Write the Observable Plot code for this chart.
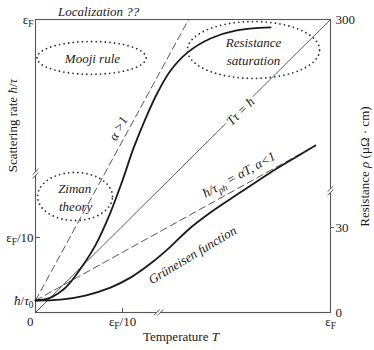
<!DOCTYPE html>
<html><head><meta charset="utf-8">
<script src="https://cdn.jsdelivr.net/npm/d3@7"></script>
<script src="https://cdn.jsdelivr.net/npm/@observablehq/plot@0.6"></script>
<style>
body{margin:0;background:#fff}
svg, svg text, svg tspan {font-family: "Liberation Serif", "DejaVu Serif", serif !important;}
</style>
</head><body><div id="chart"></div>
<script>
// Plot units: temperature T and scattering rate both on 0..100 (0 → εF, broken axes)
const upperT    = [0, 5.1, 10.2, 15.3, 20.3, 25.4, 29.5, 33.2, 37.3, 41.4, 45.8, 51.5, 59.3, 67.8, 79.7];
const upperRate = [4.1, 5.1, 8.5, 15.0, 22.9, 34.1, 45.1, 56.0, 66.2, 75.1, 82.6, 88.7, 93.5, 96.2, 97.3];
const grunT     = [0, 8.5, 16.9, 25.4, 32.2, 39.0, 45.8, 51.5, 59.3, 69.5, 79.7, 88.1, 94.9];
const grunRate  = [4.1, 4.4, 5.8, 8.5, 11.9, 16.7, 22.5, 28.0, 34.1, 41.0, 47.8, 52.9, 57.0];
const steepT = [0, 51.9],  steepRate = [4.1, 100];     // α > 1
const linT   = [0, 94.9],  linRate   = [4.1, 57.0];    // ħ/τph = αT, α<1
const unitT  = [0, 100],   unitRate  = [0, 100];       // Tτ = ħ

// dotted ellipses (regime labels)
const ellipseCx = [19.0, 73.9, 13.4];
const ellipseCy = [86.9, 89.6, 39.6];
const ellipseRx = [18.5, 22.4, 12.7];
const ellipseRy = [5.6, 9.7, 8.2];

// annotations
const annoLabel = ["Localization ??", "Mooji rule", "Resistance", "saturation", "Ziman", "theory",
                   "α >1", "ħ/τ_{ph} = αT, α<1", "Grüneisen function"];
const annoX     = [21.4, 19.3, 73.9, 73.9, 13.3, 13.6, 28.1, 69.0, 53.2];
const annoY     = [102.5, 86.7, 92.2, 86.0, 42.3, 36.2, 62.8, 47.0, 19.6];
const annoAngle = [0, 0, 0, 0, 0, 0, -61, -29, -31];
const haloLabel = ["Tτ = ħ"], haloX = [69.5], haloY = [68.6], haloAngle = [-45];

// ticks
const leftTickY = [100, 25.6, 4.1];
const leftTickLabel = ["ε_{F}", "ε_{F}/10", "*ħ*/*τ*_{0}"];
const bottomTickX = [29.5, 100];
const bottomTickLabel = ["ε_{F}/10", "ε_{F}"];
const originLabel = ["0"];
const rightTickY = [100, 29.0, 0];
const rightTickLabel = ["300", "30", "0"];
const breakLeftY = 47.4, breakRightY = 41.6, breakBottomX = 41.7;

const row = (xs, ys) => xs.map((x, i) => ({x, y: ys[i]}));
const ellipsePts = [];
ellipseCx.forEach((cx, e) => {
  for (let k = 0; k <= 160; ++k) {
    const a = (k / 160) * 2 * Math.PI;
    ellipsePts.push({e, x: cx + ellipseRx[e] * Math.cos(a), y: ellipseCy[e] + ellipseRy[e] * Math.sin(a)});
  }
});
const annos = annoLabel.map((t, i) => ({t, x: annoX[i], y: annoY[i], a: annoAngle[i]}));
const halos = haloLabel.map((t, i) => ({t, x: haloX[i], y: haloY[i], a: haloAngle[i]}));

// axis-break slashes
const slashes = [];
for (const o of [-0.6, 0.6]) {
  slashes.push({x1: -1.0, y1: breakLeftY + o - 1.0, x2: 1.0, y2: breakLeftY + o + 1.0});
  slashes.push({x1: 99.0, y1: breakRightY + o - 1.0, x2: 101.0, y2: breakRightY + o + 1.0});
  slashes.push({x1: breakBottomX + o - 1.0, y1: -1.0, x2: breakBottomX + o + 1.0, y2: 1.0});
}
const gaps = [
  {x1: 0, y1: breakLeftY - 0.6, x2: 0, y2: breakLeftY + 0.6},
  {x1: 100, y1: breakRightY - 0.6, x2: 100, y2: breakRightY + 0.6},
  {x1: breakBottomX - 0.6, y1: 0, x2: breakBottomX + 0.6, y2: 0}
];

const FONT = "Liberation Serif";
const ink = "#1a1a1a";
const T = {fontFamily: FONT, fontSize: 13, fill: ink};

const plot = Plot.plot({
  width: 374, height: 350,
  marginLeft: 35, marginRight: 44, marginTop: 19, marginBottom: 38,
  x: {domain: [0, 100], axis: null},
  y: {domain: [0, 100], axis: null},
  style: {fontFamily: FONT, fontSize: "13px", color: ink, background: "white", overflow: "visible"},
  marks: [
    Plot.frame({stroke: "#555", strokeWidth: 1.1}),
    Plot.link(gaps, {x1: "x1", y1: "y1", x2: "x2", y2: "y2", stroke: "white", strokeWidth: 3}),
    Plot.link(slashes, {x1: "x1", y1: "y1", x2: "x2", y2: "y2", stroke: "#444", strokeWidth: 0.9}),
    Plot.line(row(unitT, unitRate), {x: "x", y: "y", stroke: "#333", strokeWidth: 0.8}),
    Plot.line(row(steepT, steepRate), {x: "x", y: "y", stroke: "#444", strokeWidth: 0.9, strokeDasharray: "7,4"}),
    Plot.line(row(linT, linRate), {x: "x", y: "y", stroke: "#444", strokeWidth: 0.9, strokeDasharray: "7,4"}),
    Plot.line(row(upperT, upperRate), {x: "x", y: "y", stroke: ink, strokeWidth: 1.8, curve: "catmull-rom"}),
    Plot.line(row(grunT, grunRate), {x: "x", y: "y", stroke: ink, strokeWidth: 1.8, curve: "catmull-rom"}),
    Plot.line(ellipsePts, {x: "x", y: "y", z: "e", stroke: "#333", strokeWidth: 1.8, strokeDasharray: "0,4.6", strokeLinecap: "round"}),
    Plot.text(annos, {...T, x: "x", y: "y", text: "t", rotate: "a", fontStyle: "italic", lineAnchor: "middle"}),
    Plot.text(halos, {...T, x: "x", y: "y", text: "t", rotate: "a", fontStyle: "italic", lineAnchor: "middle", stroke: "white", strokeWidth: 6}),
    // ticks
    Plot.ruleY([leftTickY[1]], {x1: 0, x2: 1.7, stroke: "#555"}),
    Plot.ruleX([bottomTickX[0]], {y1: 0, y2: 1.4, stroke: "#555"}),
    Plot.ruleY([rightTickY[1]], {x1: 100, x2: 101.4, stroke: "#555"}),
    // tick labels
    Plot.text(leftTickY, {...T, x: 0, y: d => d, text: (d, i) => leftTickLabel[i], textAnchor: "end", dx: -2, lineAnchor: "middle"}),
    Plot.text(bottomTickX, {...T, x: d => d, y: 0, text: (d, i) => bottomTickLabel[i], textAnchor: "middle", dy: 13, lineAnchor: "bottom"}),
    Plot.text(originLabel, {...T, x: 0, y: 0, text: d => d, textAnchor: "end", dx: -2, dy: 13, lineAnchor: "bottom"}),
    Plot.text(rightTickY, {...T, x: 100, y: d => d, text: (d, i) => rightTickLabel[i], textAnchor: "start", dx: 5, lineAnchor: "middle"}),
    // axis titles
    Plot.text(["Temperature *T*"], {...T, x: 49.3, y: 0, text: d => d, dy: 28, lineAnchor: "bottom"}),
    Plot.text(["Scattering rate *ħ*/*τ*"], {...T, x: -7.6, y: 63.8, text: d => d, rotate: -90, lineAnchor: "middle"}),
    Plot.text(["Resistance *ρ* (μΩ · cm)"], {...T, x: 111.5, y: 49.8, text: d => d, rotate: -90, lineAnchor: "middle"})
  ]
});
document.getElementById("chart").appendChild(plot);

// light markup in labels: _{sub} → subscript, *x* → italic
function richify(svg) {
  svg.querySelectorAll("text").forEach(el => {
    const s = el.textContent;
    if (!/[_*]/.test(s)) return;
    while (el.firstChild) el.removeChild(el.firstChild);
    const re = /_\{([^}]*)\}|\*([^*]*)\*|([^_*]+)/g;
    let m, shift = 0;
    while ((m = re.exec(s))) {
      const t = document.createElementNS("http://www.w3.org/2000/svg", "tspan");
      if (m[1] !== undefined) {
        t.textContent = m[1];
        t.setAttribute("font-size", "0.72em");
        t.setAttribute("dy", 3.5 - shift); shift = 3.5;
      } else {
        t.textContent = m[2] !== undefined ? m[2] : m[3];
        if (m[2] !== undefined) t.setAttribute("font-style", "italic");
        if (shift) { t.setAttribute("dy", -shift); shift = 0; }
      }
      el.appendChild(t);
    }
  });
}
richify(plot);
</script>
</body></html>
